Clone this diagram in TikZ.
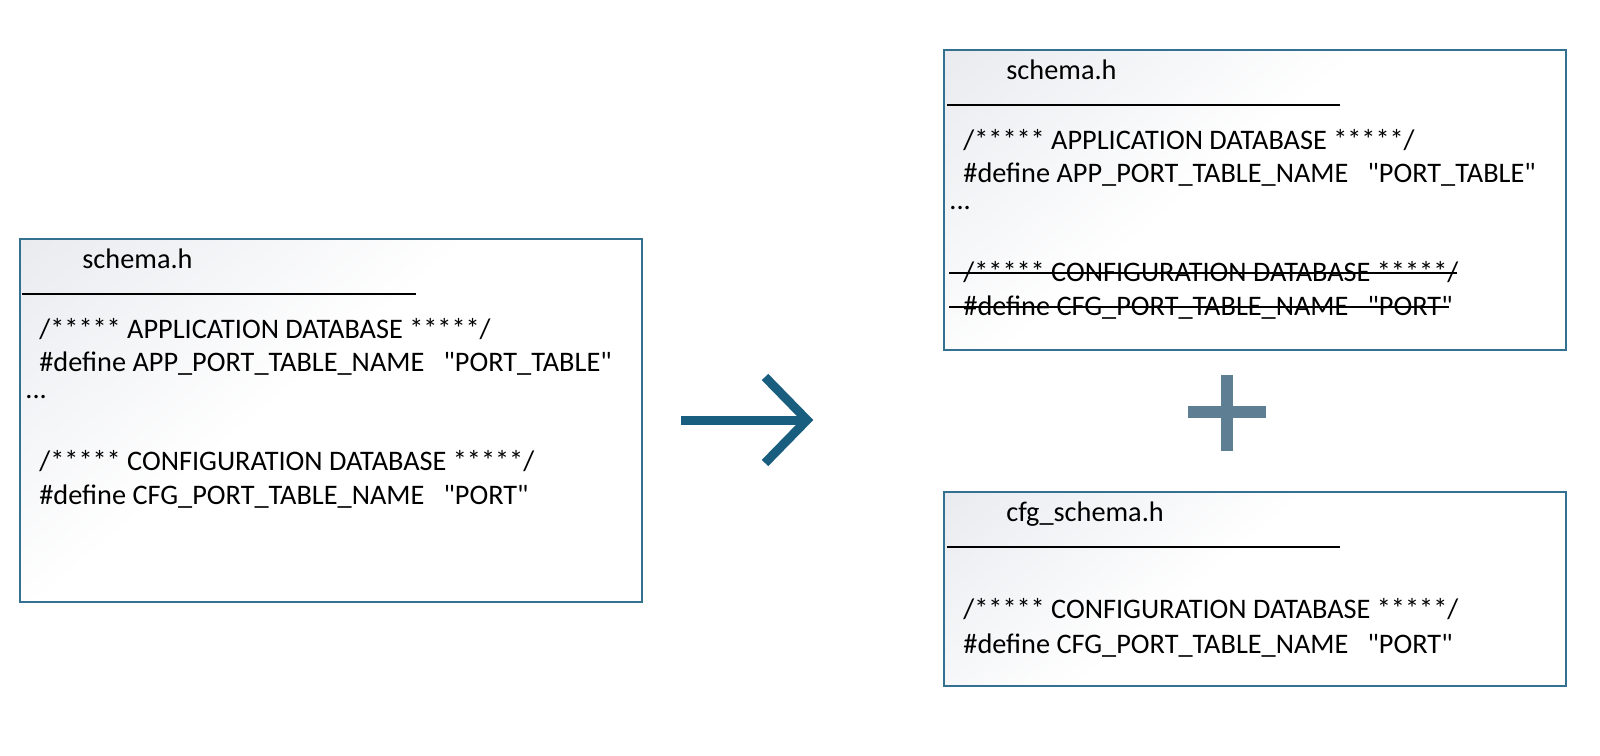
\documentclass[tikz,border=0pt]{standalone}
\usepackage{fontspec}
\setmainfont{Carlito}[Ligatures=TeXOff]
\definecolor{boxc}{RGB}{52,112,143}
\definecolor{arrc}{RGB}{26,94,127}
\definecolor{plusc}{RGB}{94,126,148}
\definecolor{shadec}{RGB}{222,225,231}
\pgfdeclareverticalshading{boxshade}{100bp}{color(0bp)=(white); color(55bp)=(white); color(100bp)=(shadec)}
\tikzset{
  code/.style={anchor=base west, inner sep=0pt, font=\fontsize{14.15}{17}\selectfont, text=black},
  filebox/.style={draw=boxc, line width=0.9pt, shading=boxshade, shading angle=40},
  rulel/.style={black, line width=0.75pt},
  strikel/.style={black, line width=0.75pt},
  arrowl/.style={arrc, line width=4.5pt},
}
\begin{document}
\begin{tikzpicture}[x=0.5pt,y=-0.5pt]
\useasboundingbox (0,0) rectangle (1600,755);

% left box: schema.h (before)
\begin{scope}[shift={(20,239)}]
  \shade[filebox] (0,0) rectangle (622,363);
  \node[code] (ltitle) at (62,29) {schema.h};
  \draw[rulel] (2,55) -- (396,55);
  \node[code] (l1) at (19,99) {/***** APPLICATION DATABASE *****/};
  \node[code] (l2) at (19,132) {\#define APP\_PORT\_TABLE\_NAME\ \ \ "PORT\_TABLE"};
  \node[code] (l3) at (5,159) {...};
  \node[code] (l4) at (19,231) {/***** CONFIGURATION DATABASE *****/};
  \node[code] (l5) at (19,265) {\#define CFG\_PORT\_TABLE\_NAME\ \ \ "PORT"};
\end{scope}

% arrow
\draw[arrowl] (681,420) -- (805,420);
\draw[arrowl] (765,377) -- (807,420) -- (765,463);

% right top box: schema.h (after)
\begin{scope}[shift={(944,50)}]
  \shade[filebox] (0,0) rectangle (622,300);
  \node[code] (rtitle) at (62,29) {schema.h};
  \draw[rulel] (3,55) -- (396,55);
  \node[code] (r1) at (19,99) {/***** APPLICATION DATABASE *****/};
  \node[code] (r2) at (19,132) {\#define APP\_PORT\_TABLE\_NAME\ \ \ "PORT\_TABLE"};
  \node[code] (r3) at (5,159) {...};
  \node[code] (r4) at (19,231) {/***** CONFIGURATION DATABASE *****/};
  \node[code] (r5) at (19,265) {\#define CFG\_PORT\_TABLE\_NAME\ \ \ "PORT"};
  \draw[strikel] (5,223) -- (513,223);
  \draw[strikel] (5,257) -- (505,257);
\end{scope}

% plus sign
\fill[plusc] (1188,406) rectangle (1266,418);
\fill[plusc] (1221,375) rectangle (1233,451);

% right bottom box: cfg_schema.h
\begin{scope}[shift={(944,492)}]
  \shade[filebox] (0,0) rectangle (622,194);
  \node[code] (ctitle) at (62,29) {cfg\_schema.h};
  \draw[rulel] (3,55) -- (396,55);
  \node[code] (c1) at (19,126) {/***** CONFIGURATION DATABASE *****/};
  \node[code] (c2) at (19,161) {\#define CFG\_PORT\_TABLE\_NAME\ \ \ "PORT"};
\end{scope}
\end{tikzpicture}
\end{document}
